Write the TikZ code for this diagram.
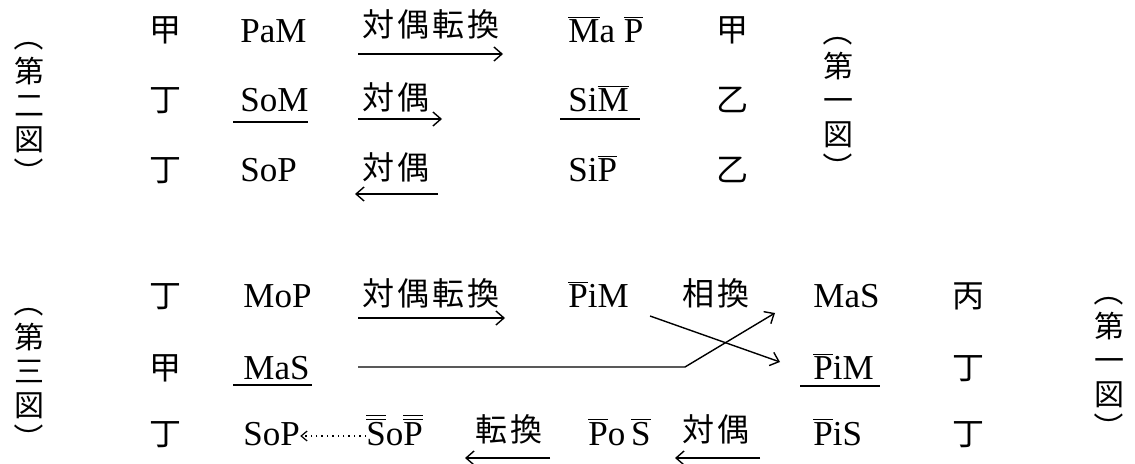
\documentclass[tikz,border=0pt]{standalone}
\usepackage{fontspec}
\setmainfont{Liberation Serif}
\newfontfamily\jp[LetterSpace=10]{Noto Sans CJK JP}
\newfontfamily\jpv{Noto Sans CJK JP}
\usetikzlibrary{arrows.meta}
\newcommand\ovl[1]{$\overline{\hbox{#1}}$}
\newcommand\ovll[1]{$\overline{\overline{\hbox{#1}}}$}
\newcommand\vop{\rotatebox[origin=c]{-90}{（}}
\newcommand\vcl{\rotatebox[origin=c]{-90}{）}}
\tikzset{
  lat/.style={inner sep=0pt, anchor=base west, font=\fontsize{17.5}{20}\selectfont},
  lab/.style={inner sep=0pt, anchor=base west, font=\jp\fontsize{16}{18}\selectfont},
  kan/.style={inner sep=0pt, anchor=base, font=\jpv\fontsize{16}{18}\selectfont},
  vlab/.style={inner sep=0pt, align=center, font=\jpv\fontsize{15}{17}\selectfont},
  arr/.style={line width=0.7pt, -{Straight Barb[length=4pt,width=7pt,line width=0.7pt]}},
  uline/.style={line width=0.7pt},
  dotarr/.style={line width=0.7pt, dotted, -{Straight Barb[length=3pt,width=5pt,line width=0.6pt]}}
}
\begin{document}
\begin{tikzpicture}[x=0.5pt,y=-0.5pt]
\useasboundingbox (0,0) rectangle (1135,464);
% ---------- top figure ----------
\node[vlab] (L2) at (29,105) {\vop\\第\\二\\図\\\vcl};
\node[vlab] (R1a) at (838,100) {\vop\\第\\一\\図\\\vcl};
\node[kan] (t11) at (165,42) {甲};
\node[kan] (t21) at (165,112) {丁};
\node[kan] (t31) at (165,182) {丁};
\node[lat] (PaM) at (240,43) {PaM};
\node[lat] (SoM) at (240,112) {SoM};
\node[lat] (SoP) at (240,182) {SoP};
\coordinate (uS1) at (233,122); \coordinate (uS2) at (308,122);
\draw[uline] (uS1) -- (uS2);
\node[lab] (l1) at (362,37) {対偶転換};
\node[lab] (l2) at (362,110) {対偶};
\node[lab] (l3) at (362,180) {対偶};
\coordinate (a1s) at (358,54); \coordinate (a1e) at (503,54);
\coordinate (a2s) at (358,119); \coordinate (a2e) at (442,119);
\coordinate (a3s) at (438,194); \coordinate (a3e) at (355,194);
\draw[arr] (a1s) -- (a1e);
\draw[arr] (a2s) -- (a2e);
\draw[arr] (a3s) -- (a3e);
\node[lat] (MaP) at (568,43) {\ovl{M}a \ovl{P}};
\node[lat] (SiM) at (568,112) {Si\ovl{M}};
\node[lat] (SiP) at (568,182) {Si\ovl{P}};
\coordinate (uT1) at (560,119); \coordinate (uT2) at (640,119);
\draw[uline] (uT1) -- (uT2);
\node[kan] (t15) at (732,42) {甲};
\node[kan] (t25) at (732,112) {乙};
\node[kan] (t35) at (732,182) {乙};
% ---------- bottom figure ----------
\node[vlab] (L3) at (29,371) {\vop\\第\\三\\図\\\vcl};
\node[vlab] (R1b) at (1109,360) {\vop\\第\\一\\図\\\vcl};
\node[kan] (b11) at (165,308) {丁};
\node[kan] (b21) at (165,380) {甲};
\node[kan] (b31) at (165,445) {丁};
\node[lat] (MoP) at (243,308) {MoP};
\node[lat] (MaS) at (243,380) {MaS};
\node[lat] (SoPb) at (243,445) {SoP};
\coordinate (uM1) at (233,385); \coordinate (uM2) at (312,385);
\draw[uline] (uM1) -- (uM2);
\node[lat] (SoPbb) at (366,445) {\ovll{S}o\ovll{P}};
\draw[dotarr] (SoPbb.west |- 0,436) -- (SoPb.east |- 0,436);
\node[lab] (m1) at (362,306) {対偶転換};
\coordinate (b1s) at (358,318); \coordinate (b1e) at (505,318);
\draw[arr] (b1s) -- (b1e);
\node[lat] (PiM) at (568,308) {\ovl{P}iM};
\node[lab] (swap) at (682,306) {相換};
\coordinate (h1) at (358,367); \coordinate (h2) at (685,367); \coordinate (h3) at (775,313);
\draw[arr] (h1) -- (h2) -- (h3);
\coordinate (c1) at (650,316); \coordinate (c2) at (780,362);
\draw[arr] (c1) -- (c2);
\node[lat] (MaSr) at (813,308) {MaS};
\node[lat] (PiMr) at (813,380) {\ovl{P}iM};
\node[lat] (PiSr) at (813,445) {\ovl{P}iS};
\coordinate (uR1) at (800,386); \coordinate (uR2) at (880,386);
\draw[uline] (uR1) -- (uR2);
\node[kan] (b15) at (968,308) {丙};
\node[kan] (b25) at (968,380) {丁};
\node[kan] (b35) at (968,445) {丁};
\node[lab] (tk) at (475,442) {転換};
\coordinate (d1s) at (550,458); \coordinate (d1e) at (465,458);
\draw[arr] (d1s) -- (d1e);
\node[lat] (PoS) at (588,445) {\ovl{P}o\,\ovl{S}};
\node[lab] (tg) at (682,442) {対偶};
\coordinate (d2s) at (760,458); \coordinate (d2e) at (675,458);
\draw[arr] (d2s) -- (d2e);
\end{tikzpicture}
\end{document}
